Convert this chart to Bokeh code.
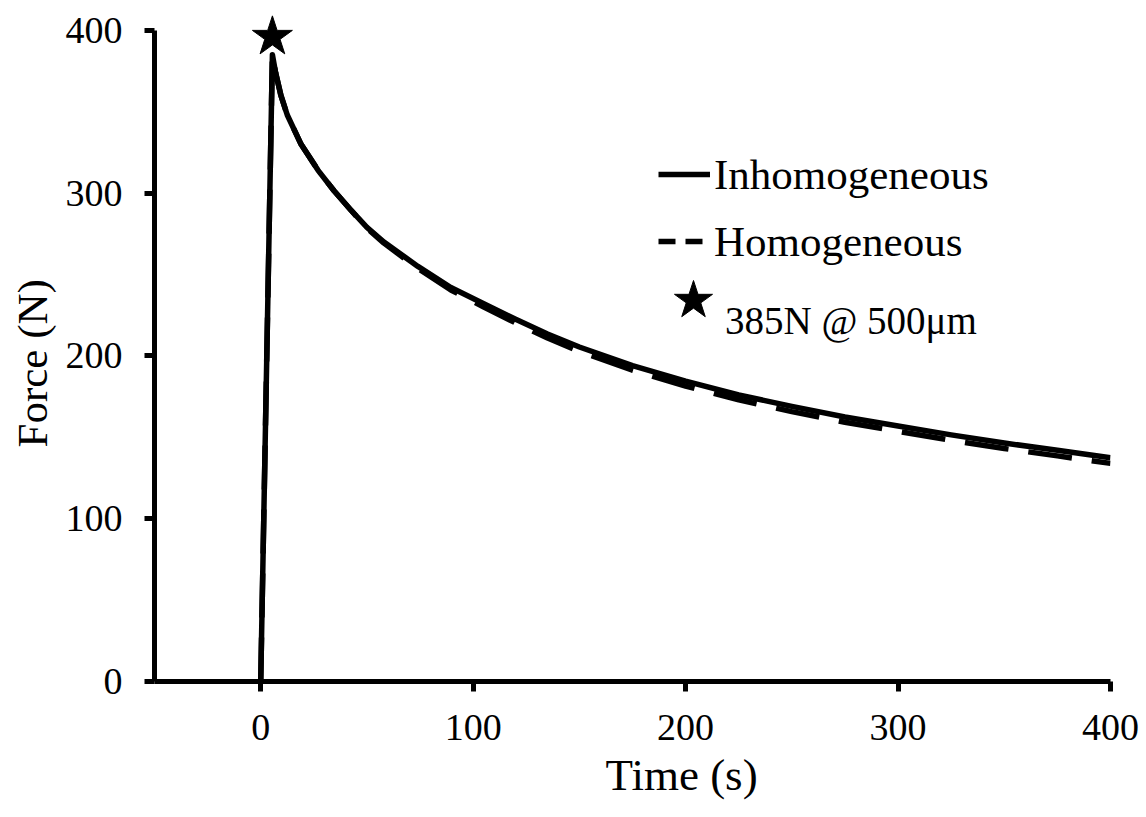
from bokeh.plotting import figure
from bokeh.models import Range1d, FixedTicker, Legend, LegendItem, Title
from bokeh.embed import file_html
from bokeh.resources import INLINE

# ---- data ----
time_s = [0, 5.5, 7, 9.5, 12.5, 19, 27, 34.5, 42.5, 50, 58, 66, 74, 89.5, 105, 120, 135,
          150, 175, 200, 225, 250, 275, 300, 325, 350, 375, 400]
force_inhomogeneous = [0, 385, 374, 360, 348, 330, 314, 301.5, 289.5, 279, 270, 262.5, 255,
                       242, 232, 222.5, 213.5, 205.5, 194, 184.5, 176, 169, 162.5, 157,
                       151.5, 146.5, 142, 137.5]
force_homogeneous = [0, 385, 374, 360, 348, 330, 314, 301.5, 289.5, 278.5, 269.3, 261.5,
                     253.8, 240.5, 230, 220.3, 211, 202.8, 191.2, 181.5, 173, 165.8, 159.3,
                     153.7, 148.2, 143.1, 138.6, 134]
peak_time = [5.5]
peak_marker_force = [396]

x_ticks = [0, 100, 200, 300, 400]
y_ticks = [0, 100, 200, 300, 400]

label_solid = "Inhomogeneous"
label_dash = "Homogeneous"
label_star = "385N @ 500μm"
x_title = "Time (s)"
y_title = "Force (N)"

FONT = "Liberation Serif"
NAN = float("nan")

p = figure(width=1140, height=810,
           x_range=Range1d(-50, 400), y_range=Range1d(0, 412.2),
           output_backend="svg", toolbar_location=None,
           min_border_left=154, min_border_right=30,
           min_border_top=10, min_border_bottom=129)
p.outline_line_color = None
p.xgrid.visible = False
p.ygrid.visible = False
p.background_fill_color = "white"
p.border_fill_color = "white"

for ax, ticks in ((p.xaxis[0], x_ticks), (p.yaxis[0], y_ticks)):
    ax.ticker = FixedTicker(ticks=ticks)
    ax.axis_line_width = 5
    ax.axis_line_color = "black"
    ax.major_tick_line_width = 5
    ax.major_tick_line_color = "black"
    ax.major_tick_out = 10
    ax.major_tick_in = 0
    ax.minor_tick_out = 0
    ax.minor_tick_in = 0
    ax.major_label_text_font = FONT
    ax.major_label_text_font_size = "38px"
    ax.major_label_text_color = "black"

p.yaxis[0].bounds = (0, 400)
p.yaxis[0].major_label_standoff = 22
p.xaxis[0].major_label_standoff = 23

r_dash = p.line(time_s, force_homogeneous, line_width=5.5, color="black",
                line_dash="44 20")
r_solid = p.line(time_s, force_inhomogeneous, line_width=5.5, color="black",
                 line_join="round")
r_star = p.scatter(peak_time, peak_marker_force, marker="star", size=42,
                   color="black")

# legend proxy (draws nothing in the plot) for the short-dash legend sample
r_dash_proxy = p.line([NAN], [NAN], line_width=5.5, color="black", line_dash="17 10")

legend = Legend(items=[LegendItem(label=label_solid, renderers=[r_solid]),
                       LegendItem(label=label_dash, renderers=[r_dash_proxy])],
                location=(504, 410), glyph_width=52, glyph_height=60, spacing=7,
                label_standoff=4, padding=0, margin=0,
                border_line_color=None, background_fill_alpha=0,
                label_text_font=FONT, label_text_font_size="43px",
                label_text_color="black")
p.add_layout(legend)

# star sample of the legend
legend_star = Legend(items=[LegendItem(label=" ", renderers=[r_star])],
                     location=(489, 331), glyph_width=100, glyph_height=100,
                     label_standoff=0, padding=0, margin=0,
                     border_line_color=None, background_fill_alpha=0,
                     label_text_font=FONT, label_text_font_size="10px",
                     label_text_color="black")
p.add_layout(legend_star)

# star legend text (sits a little lower than its star, as in the reference)
legend_star_text = Legend(items=[LegendItem(label=label_star, renderers=[r_star])],
                          location=(571, 336), glyph_width=0, glyph_height=50,
                          label_standoff=0, padding=0, margin=0,
                          border_line_color=None, background_fill_alpha=0,
                          label_text_font=FONT, label_text_font_size="39px",
                          label_text_color="black")
p.add_layout(legend_star_text)

p.add_layout(Title(text=x_title, align="left", offset=451, standoff=10,
                   text_font=FONT, text_font_size="45px", text_font_style="normal",
                   text_color="black"), "below")
p.add_layout(Title(text=y_title, align="left", offset=234, standoff=13,
                   text_font=FONT, text_font_size="43px", text_font_style="normal",
                   text_color="black"), "left")

open("out.html", "w").write(file_html(p, INLINE))
